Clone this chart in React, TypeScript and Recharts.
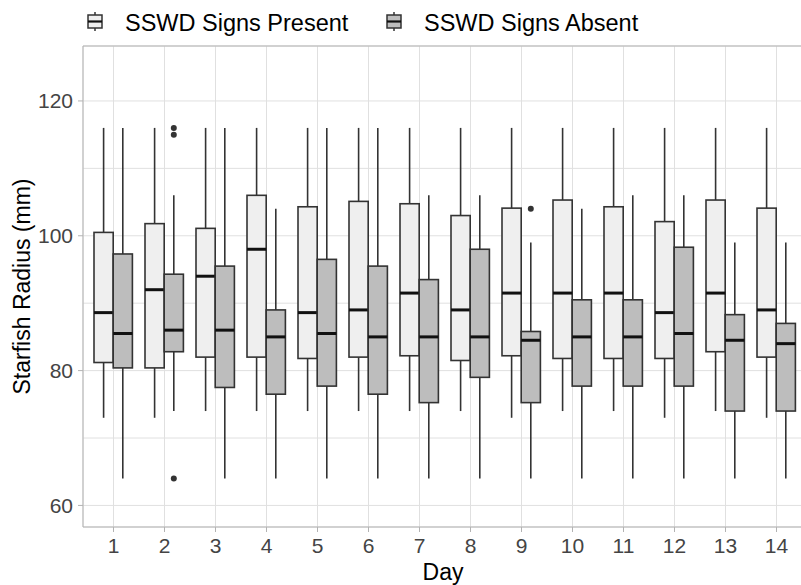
import { ComposedChart, Bar, XAxis, YAxis, CartesianGrid, Legend, ReferenceLine } from 'recharts'

const days = ['1', '2', '3', '4', '5', '6', '7', '8', '9', '10', '11', '12', '13', '14']

// SSWD signs present
const presentMin = [73, 73, 74, 74, 74, 74, 74, 74, 73, 74, 74, 73, 74, 73]
const presentQ1 = [81.2, 80.4, 82.0, 82.0, 81.8, 82.0, 82.2, 81.5, 82.2, 81.8, 81.8, 81.8, 82.8, 82.0]
const presentMedian = [88.6, 92.0, 94.0, 98.0, 88.6, 89.0, 91.5, 89.0, 91.5, 91.5, 91.5, 88.6, 91.5, 89.0]
const presentQ3 = [100.5, 101.8, 101.1, 106.0, 104.3, 105.1, 104.75, 103.0, 104.1, 105.3, 104.3, 102.1, 105.3, 104.1]
const presentMax = [116, 116, 116, 116, 116, 116, 116, 116, 116, 116, 116, 116, 116, 116]
const presentOutliers: number[][] = [[], [], [], [], [], [], [], [], [], [], [], [], [], []]

// SSWD signs absent
const absentMin = [64, 74, 64, 64, 64, 64, 64, 64, 64, 64, 64, 64, 64, 64]
const absentQ1 = [80.4, 82.8, 77.5, 76.5, 77.7, 76.5, 75.25, 79.0, 75.25, 77.7, 77.7, 77.7, 74.0, 74.0]
const absentMedian = [85.5, 86.0, 86.0, 85.0, 85.5, 85.0, 85.0, 85.0, 84.5, 85.0, 85.0, 85.5, 84.5, 84.0]
const absentQ3 = [97.3, 94.3, 95.5, 89.0, 96.5, 95.5, 93.5, 98.0, 85.8, 90.5, 90.5, 98.3, 88.3, 87.0]
const absentMax = [116, 106, 116, 104, 116, 116, 106, 106, 99, 104, 106, 106, 99, 99]
const absentOutliers: number[][] = [[], [116, 115, 64], [], [], [], [], [], [], [104], [], [], [], [], []]

const yTicks = [60, 80, 100, 120]
const gridValues = [60, 70, 80, 90, 100, 110, 120]
const Y_MIN = 56.8
const Y_MAX = 128.15

const FONT = '"Liberation Sans", Arial, Helvetica, sans-serif'
const INK = '#333333'

interface BoxStats {
  min: number[]
  q1: number[]
  median: number[]
  q3: number[]
  max: number[]
  outliers: number[][]
}

const present: BoxStats = {
  min: presentMin, q1: presentQ1, median: presentMedian, q3: presentQ3, max: presentMax, outliers: presentOutliers,
}
const absent: BoxStats = {
  min: absentMin, q1: absentQ1, median: absentMedian, q3: absentQ3, max: absentMax, outliers: absentOutliers,
}

const span = (s: BoxStats, i: number): [number, number] => [
  Math.min(s.min[i], ...s.outliers[i]),
  Math.max(s.max[i], ...s.outliers[i]),
]

const data = days.map((day, i) => ({
  day,
  idx: i,
  presentRange: span(present, i),
  absentRange: span(absent, i),
}))

function boxShape(stats: BoxStats, rangeKey: 'presentRange' | 'absentRange', fill: string) {
  return (props: any) => {
    const { x, y, width, height, payload } = props
    const i = payload.idx
    const [lo, hi] = payload[rangeKey]
    // the bar spans lo..hi on a linear scale, so interpolate inside it
    const py = (v: number) => y + (height * (hi - v)) / (hi - lo)
    const cx = x + width / 2
    return (
      <g>
        <line x1={cx} x2={cx} y1={py(stats.max[i])} y2={py(stats.q3[i])} stroke={INK} strokeWidth={1.6} />
        <line x1={cx} x2={cx} y1={py(stats.q1[i])} y2={py(stats.min[i])} stroke={INK} strokeWidth={1.6} />
        <rect
          x={x}
          y={py(stats.q3[i])}
          width={width}
          height={py(stats.q1[i]) - py(stats.q3[i])}
          fill={fill}
          stroke={INK}
          strokeWidth={1.6}
        />
        <line x1={x} x2={x + width} y1={py(stats.median[i])} y2={py(stats.median[i])} stroke="#111" strokeWidth={3} />
        {stats.outliers[i].map((o, k) => (
          <circle key={k} cx={cx} cy={py(o)} r={3} fill={INK} />
        ))}
      </g>
    )
  }
}

const legendItems = [
  { label: 'SSWD Signs Present', fill: '#efefef', x: 88 },
  { label: 'SSWD Signs Absent', fill: '#bdbdbd', x: 387 },
]

function LegendContent() {
  return (
    <svg width={801} height={40} style={{ display: 'block' }}>
      {legendItems.map((it) => (
        <g key={it.label}>
          <line x1={it.x + 7} x2={it.x + 7} y1={12} y2={31} stroke={INK} strokeWidth={1.5} />
          <rect x={it.x} y={15} width={14} height={13} fill={it.fill} stroke={INK} strokeWidth={1.5} />
          <line x1={it.x} x2={it.x + 14} y1={21.5} y2={21.5} stroke="#111" strokeWidth={2.2} />
          <text x={it.x + 37} y={30.5} fontSize={23.5} fill="#000" fontFamily={FONT}>
            {it.label}
          </text>
        </g>
      ))}
    </svg>
  )
}

export default function App() {
  return (
    <div style={{ position: 'absolute', left: 0, top: 0, background: '#fff' }}>
      <ComposedChart
        width={801}
        height={585}
        data={data}
        margin={{ top: 6, right: -6, bottom: 0, left: 0 }}
        barGap={0}
        style={{ fontFamily: FONT }}
      >
        <Legend verticalAlign="top" align="left" wrapperStyle={{ top: 0, left: 0 }} content={<LegendContent />} />
        <CartesianGrid stroke="#e0e0e0" strokeWidth={1} yAxisId="grid" />
        <XAxis
          dataKey="day"
          padding={{ left: 5, right: 5 }}
          height={58}
          tickSize={5}
          tickMargin={6}
          stroke="#b3b3b3"
          tick={{ fill: '#444', fontSize: 21 }}
          label={{
            content: ({ viewBox }: any) => (
              <text x={viewBox.x + viewBox.width / 2 - 2} y={580} textAnchor="middle" fontSize={23} fill="#000" fontFamily={FONT}>
                Day
              </text>
            ),
          }}
        />
        <YAxis yAxisId="grid" type="number" domain={[Y_MIN, Y_MAX]} allowDataOverflow ticks={gridValues} hide />
        <YAxis
          type="number"
          domain={[Y_MIN, Y_MAX]}
          allowDataOverflow
          ticks={yTicks}
          width={83}
          tickSize={5}
          tickMargin={5}
          stroke="#b3b3b3"
          tick={{ fill: '#444', fontSize: 21 }}
          label={{
            content: ({ viewBox }: any) => {
              const cy = viewBox.y + viewBox.height / 2
              return (
                <text x={29.5} y={cy} transform={`rotate(-90, 29.5, ${cy})`} textAnchor="middle" fontSize={23} fill="#000" fontFamily={FONT}>
                  Starfish Radius (mm)
                </text>
              )
            },
          }}
        />
        <ReferenceLine y={Y_MAX} stroke="#b3b3b3" />
        <Bar dataKey="presentRange" barSize={19.2} isAnimationActive={false} shape={boxShape(present, 'presentRange', '#efefef')} />
        <Bar dataKey="absentRange" barSize={19.2} isAnimationActive={false} shape={boxShape(absent, 'absentRange', '#bdbdbd')} />
      </ComposedChart>
    </div>
  )
}
